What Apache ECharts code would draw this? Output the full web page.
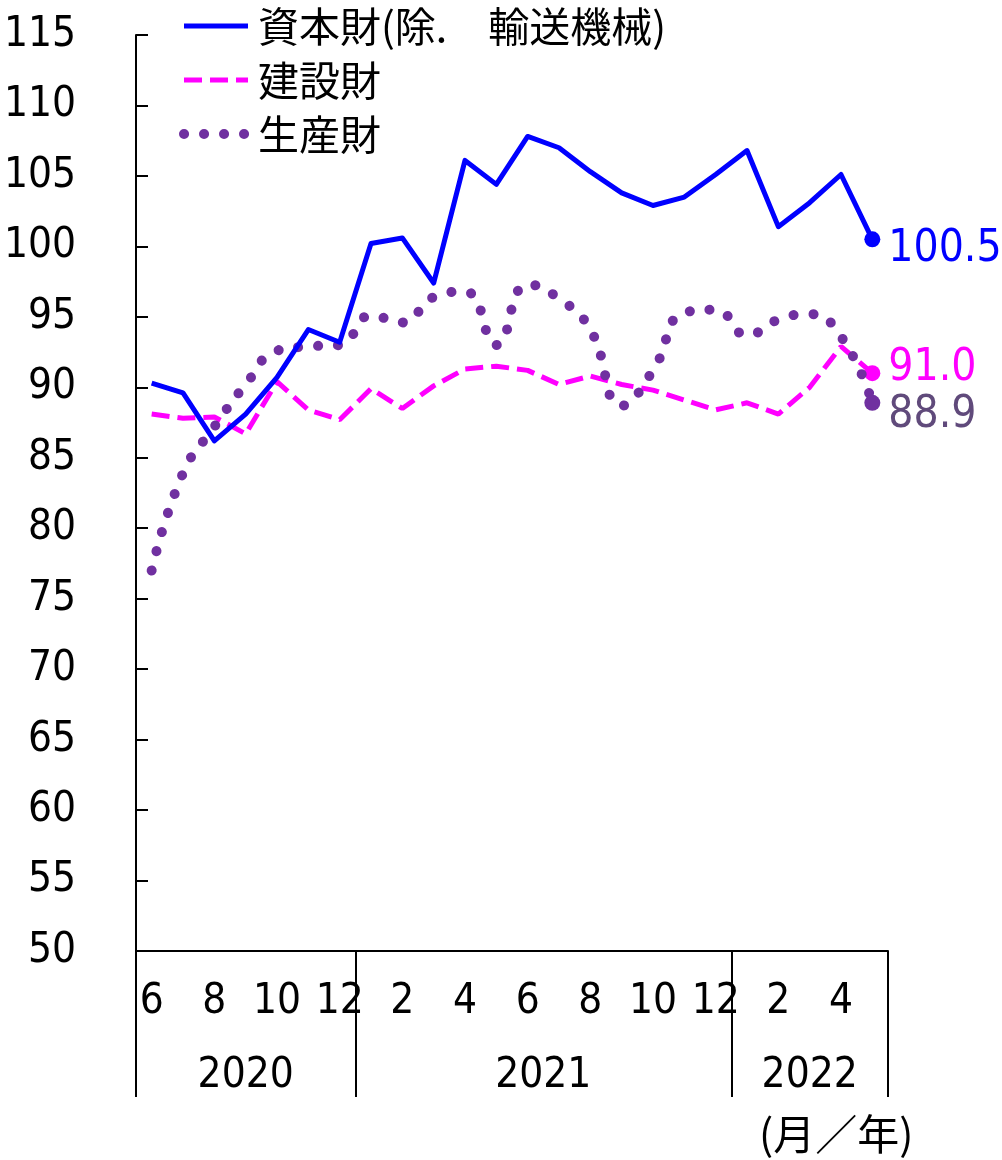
<!DOCTYPE html>
<html>
<head>
<meta charset="utf-8">
<script src="https://cdn.jsdelivr.net/npm/echarts@6/dist/echarts.min.js"></script>
<style>
html,body{margin:0;padding:0;background:#fff;}
#chart{width:1002px;height:1160px;}
</style>
</head>
<body>
<div id="chart"></div>
<script>
const months = ['6','7','8','9','10','11','12','1','2','3','4','5','6','7','8','9','10','11','12','1','2','3','4','5'];
const yearLabels = ['2020','2021','2022'];
const yearStartIdx = [0, 7, 19];
const capitalGoods = [90.3, 89.6, 86.2, 88.1, 90.7, 94.1, 93.2, 100.2, 100.6, 97.4, 106.1, 104.4, 107.8, 107.0, 105.3, 103.8, 102.9, 103.5, 105.1, 106.8, 101.4, 103.1, 105.1, 100.5];
const constructionGoods = [88.1, 87.8, 87.9, 86.7, 90.4, 88.4, 87.7, 89.9, 88.5, 90.1, 91.3, 91.5, 91.2, 90.2, 90.8, 90.2, 89.8, 89.1, 88.4, 88.9, 88.1, 90.0, 92.9, 91.0];
const producerGoods = [77.0, 83.9, 87.2, 90.2, 92.6, 92.9, 93.0, 95.1, 94.6, 96.4, 96.8, 93.0, 97.3, 96.3, 94.1, 88.7, 91.2, 95.3, 95.5, 93.7, 94.8, 95.2, 93.6, 88.9];
const seriesNames = ['資本財(除.\u3000輸送機械)', '建設財', '生産財'];
const yTicks = {min: 50, max: 115, interval: 5};

const NUM_FONT = "'DejaVu Sans Condensed', 'Liberation Sans Narrow', sans-serif";
const CJK_FONT = "'Noto Sans CJK JP', 'Noto Sans', sans-serif";
const gridLeft = 136, gridRight = 114;
const bandW = (1002 - gridLeft - gridRight) / months.length;

// year row: tick at year boundaries, label at the middle of each year span
const yearBounds = yearStartIdx.concat([months.length]);
const yearLabelAt = {};
yearLabels.forEach((y, i) => {
  const c = (yearBounds[i] + yearBounds[i + 1]) / 2;
  const idx = Math.floor(c - 0.5);
  const shift = c - (idx + 0.5);
  yearLabelAt[idx] = {text: y, shift: shift};
});

function lastItems(arr, color, offY) {
  return arr.map((v, i) => {
    if (i !== arr.length - 1) return v;
    return {
      value: v,
      symbolSize: 16,
      label: {
        show: true, position: 'right', distance: 8, offset: [0, offY],
        formatter: (p) => p.value.toFixed(1),
        color: color, fontSize: 44, fontFamily: NUM_FONT
      }
    };
  });
}

const chart = echarts.init(document.getElementById('chart'), null, {renderer: 'canvas'});
chart.setOption({
  animation: false,
  backgroundColor: '#fff',
  grid: {left: gridLeft, right: gridRight, top: 35, bottom: 209, containLabel: false, outerBoundsMode: 'none'},
  legend: {
    orient: 'vertical', left: 179, top: 4, padding: 0,
    itemWidth: 64, itemHeight: 4, itemGap: 10,
    textStyle: {fontSize: 41, fontFamily: CJK_FONT, color: '#000', lineHeight: 44, padding: [0, 0, 0, 5]},
    itemStyle: {opacity: 0},
    data: [
      {name: seriesNames[0], lineStyle: {width: 5, color: '#0000FF', type: 'solid'}},
      {name: seriesNames[1], lineStyle: {width: 5, color: '#FF00FF', type: [18, 8]}},
      {name: seriesNames[2], lineStyle: {width: 10, color: '#7030A0', type: [0.1, 19.9], cap: 'round'}}
    ]
  },
  xAxis: [
    {
      type: 'category', data: months, boundaryGap: true, position: 'bottom',
      axisLine: {show: true, lineStyle: {color: '#000', width: 2}},
      axisTick: {show: false},
      axisLabel: {
        interval: (i) => i % 2 === 0,
        margin: 29, fontSize: 42, lineHeight: 44, fontFamily: NUM_FONT, color: '#000'
      }
    },
    {
      type: 'category', data: months, boundaryGap: true, position: 'bottom',
      axisLine: {show: false},
      axisTick: {show: true, length: 146, interval: (i) => yearStartIdx.indexOf(i) >= 0,
        lineStyle: {color: '#000', width: 2}},
      axisLabel: {
        interval: (i) => yearLabelAt[i] !== undefined,
        formatter: (v, i) => {
          const y = yearLabelAt[i];
          if (!y) return '';
          return y.shift > 0 ? '{s|' + y.text + '}' : '{n|' + y.text + '}';
        },
        margin: 103,
        rich: {
          s: {fontSize: 42, lineHeight: 44, fontFamily: NUM_FONT, color: '#000', padding: [0, 0, 0, 2 * 0.5 * bandW]},
          n: {fontSize: 42, lineHeight: 44, fontFamily: NUM_FONT, color: '#000'}
        }
      }
    }
  ],
  yAxis: {
    type: 'value', min: yTicks.min, max: yTicks.max, interval: yTicks.interval,
    axisLine: {show: true, lineStyle: {color: '#000', width: 2}},
    axisTick: {show: true, inside: true, length: 12, lineStyle: {color: '#000', width: 2}},
    splitLine: {show: false},
    axisLabel: {margin: 60, fontSize: 42, fontFamily: NUM_FONT, color: '#000'}
  },
  series: [
    {
      name: seriesNames[0], type: 'line', xAxisIndex: 0,
      data: lastItems(capitalGoods, '#0000FF', 10),
      symbol: 'circle', symbolSize: 0, showAllSymbol: true,
      lineStyle: {color: '#0000FF', width: 5, join: 'round'},
      itemStyle: {color: '#0000FF'}, z: 5
    },
    {
      name: seriesNames[1], type: 'line', xAxisIndex: 0,
      data: lastItems(constructionGoods, '#FF00FF', -5),
      symbol: 'circle', symbolSize: 0, showAllSymbol: true,
      lineStyle: {color: '#FF00FF', width: 5, type: [18, 8]},
      itemStyle: {color: '#FF00FF'}, z: 3
    },
    {
      name: seriesNames[2], type: 'line', xAxisIndex: 0, smooth: true,
      data: lastItems(producerGoods, '#604A7B', 13),
      symbol: 'circle', symbolSize: 0, showAllSymbol: true,
      lineStyle: {color: '#7030A0', width: 10, type: [0.1, 19.9], cap: 'round'},
      itemStyle: {color: '#7030A0'}, z: 4
    }
  ],
  graphic: [
    {type: 'text', left: 759, top: 1113,
     style: {text: '(月／年)', fontSize: 42, fontFamily: CJK_FONT, fill: '#000'}}
  ]
});
</script>
</body>
</html>
